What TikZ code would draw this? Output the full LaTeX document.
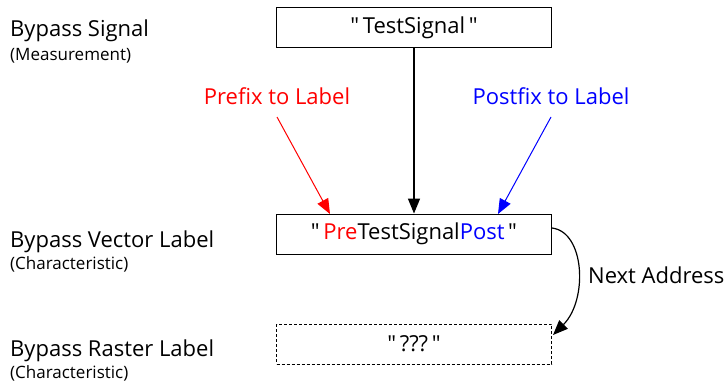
\documentclass[tikz,border=0pt]{standalone}
\usepackage{fontspec}
\setmainfont{Open Sans}
\usetikzlibrary{arrows.meta}
\definecolor{pred}{RGB}{255,0,0}
\definecolor{pblue}{RGB}{0,0,255}
\newcommand{\qq}{\textquotedbl}
\tikzset{
  box/.style={draw, line width=0.9pt, minimum width=275pt, minimum height=40pt, inner sep=0pt, font=\fontsize{22}{26}\selectfont},
  dbox/.style={box, dashed, dash pattern=on 3pt off 2pt},
  side/.style={anchor=base west, inner sep=0pt, font=\fontsize{22}{26}\selectfont},
  sub/.style={anchor=base west, inner sep=0pt, font=\fontsize{17}{20}\selectfont},
  lab/.style={inner sep=0pt, font=\fontsize{22}{26}\selectfont},
  arr/.style={-{Triangle[length=15pt,width=12pt]}},
}
\begin{document}
\begin{tikzpicture}[x=1pt,y=-1pt]
\useasboundingbox (0,0) rectangle (725,383);
\node[box] (top) at (414,27.5) {\qq\,TestSignal\,\qq};
\node[box] (mid) at (414,234) {\qq\,\textcolor{pred}{Pre}TestSignal\textcolor{pblue}{Post}\,\qq};
\node[dbox] (ras) at (414,344) {\qq\,???\,\qq};

\node[side] (s1) at (10,36) {Bypass Signal};
\node[sub] (s1b) at (10,60) {(Measurement)};
\node[side] (s2) at (10,247) {Bypass Vector Label};
\node[sub] (s2b) at (10,269) {(Characteristic)};
\node[side] (s3) at (10,356) {Bypass Raster Label};
\node[sub] (s3b) at (10,378) {(Characteristic)};

\node[lab, text=pred] (pre) at (277,96) {Prefix to Label};
\node[lab, text=pblue] (post) at (551,96) {Postfix to Label};
\node[lab, anchor=west] (next) at (588,275) {Next Address};

\coordinate (preS) at (277,117);
\coordinate (postS) at (551,117);
\coordinate (preE) at (330,214);
\coordinate (postE) at (498,214);
\coordinate (cS) at (552,228);
\coordinate (cE) at (553,335);

\draw[arr, line width=1.4pt] (top.south) -- (mid.north);
\draw[arr, line width=1pt, pred] (preS) -- (preE);
\draw[arr, line width=1pt, pblue] (postS) -- (postE);
\draw[arr, line width=1.2pt] (cS) .. controls (585,232) and (588,300) .. (cE);
\end{tikzpicture}
\end{document}
